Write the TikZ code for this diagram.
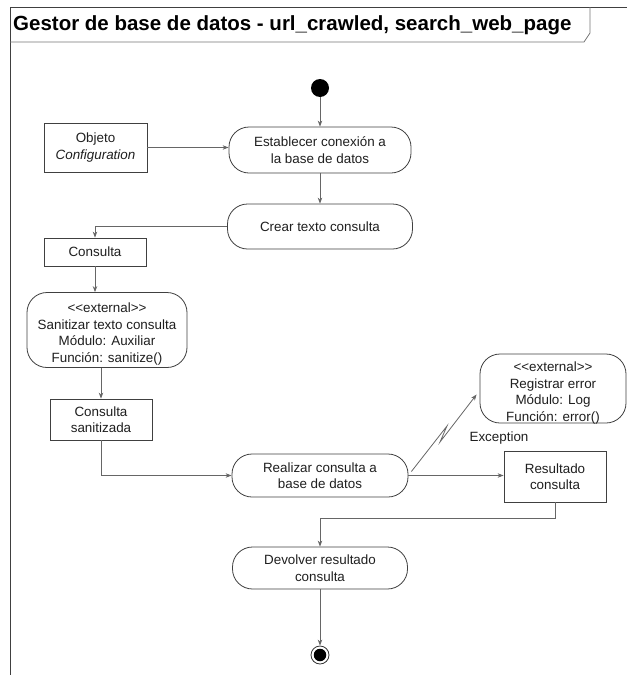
\documentclass[tikz,border=0pt]{standalone}
\usepackage{fontspec}
\setmainfont{Liberation Sans}
\usetikzlibrary{arrows.meta,calc}
\newcommand{\stereo}[1]{{<}{<}#1{>}{>}}
\begin{document}
\begin{tikzpicture}[x=1pt,y=-1pt,
  every node/.style={font=\fontsize{13.4}{16.5}\selectfont, text=black!88, align=center, inner sep=0pt},
  action/.style={draw=black!75, line width=0.8pt, rounded corners=20pt, fill=white},
  objbox/.style={draw=black!75, line width=0.8pt, fill=white},
  conn/.style={draw=black!60, line width=0.8pt, -{Stealth[length=6pt,width=4.5pt]}},
  frameline/.style={draw=black!75, line width=0.9pt},
  tabline/.style={draw=black!55, line width=0.8pt}]
\useasboundingbox (0,0) rectangle (627,675);

% frame and title tab
\draw[frameline] (10,675) -- (10,7) -- (627,7);
\draw[tabline] (10,42) -- (584,42) -- (590,33) -- (590,7);
\node[anchor=west, font=\fontsize{20.5}{24}\selectfont\bfseries, text=black] (title) at (13,25)
  {Gestor de base de datos - url\_crawled, search\_web\_page};

% initial and final nodes
\node[circle, fill=black, minimum size=18pt] (start) at (320,88) {};
\node[circle, draw=black!80, line width=0.8pt, minimum size=18pt] (end) at (320,655) {};
\node[circle, fill=black, minimum size=12.5pt] (endcore) at (end) {};

% actions
\node[action, minimum width=182pt, minimum height=46pt] (estab) at (320,150)
  {Establecer conexión a\\la base de datos};
\node[action, minimum width=185pt, minimum height=45pt] (crear) at (320,226.5)
  {Crear texto consulta};
\node[action, minimum width=160pt, minimum height=75pt] (sanit) at (107,330) {};
\node (sanittext) at (107,334)
  {\stereo{external}\\Sanitizar texto consulta\\Módulo: Auxiliar\\Función: sanitize()};
\node[action, minimum width=176pt, minimum height=43pt] (realizar) at (320,475.5)
  {Realizar consulta a\\base de datos};
\node[action, minimum width=146pt, minimum height=69pt] (registrar) at (553,388.5) {};
\node (registrartext) at (553,393)
  {\stereo{external}\\Registrar error\\Módulo: Log\\Función: error()};
\node[action, minimum width=175pt, minimum height=42pt] (devolver) at (320,568)
  {Devolver resultado\\consulta};

% object nodes
\node[objbox, minimum width=103pt, minimum height=49pt] (obj) at (95.5,147.5)
  {Objeto\\\textit{Configuration}};
\node[objbox, minimum width=102pt, minimum height=28pt] (consulta) at (95,252)
  {Consulta};
\node[objbox, minimum width=102pt, minimum height=41pt] (sanitized) at (101,419.5)
  {Consulta\\sanitizada};
\node[objbox, minimum width=102pt, minimum height=51pt] (resultado) at (555,476.5)
  {Resultado\\consulta};

\node (exc) at (499,438) {Exception};

% flows
\draw[conn] (start) -- (estab);
\draw[conn] (obj.east) -- (obj.east -| estab.west);
\draw[conn] (estab) -- (crear);
\draw[conn] (crear.west) -| (consulta.north);
\draw[conn] (consulta.south) -- (consulta.south |- sanit.north);
\draw[conn] (sanit.south -| sanitized.north) -- (sanitized.north);
\draw[conn] (sanitized.south) |- (realizar.west);
\draw[conn] (realizar.east) -- (realizar.east -| resultado.west);
\coordinate (join) at (320,518);
\draw[conn] (resultado.south) |- (join) -- (devolver.north);
\draw[conn] (devolver) -- (end);

% interrupting edge to the error handler
\coordinate (zA) at (447,426);
\coordinate (zB) at (440,442);
\draw[conn] ($(realizar.east)+(3,-4)$) -- (zA) -- (zB) -- ($(registrar.west)+(-3,6)$);
\end{tikzpicture}
\end{document}
